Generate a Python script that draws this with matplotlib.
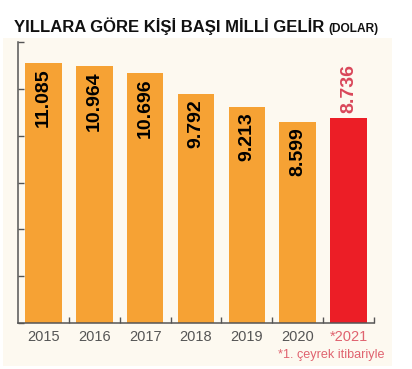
import matplotlib
matplotlib.use('Agg')
import matplotlib.pyplot as plt
from matplotlib.patches import Rectangle

years = ['2015', '2016', '2017', '2018', '2019', '2020', '*2021']
values = [11085, 10964, 10696, 9792, 9213, 8599, 8736]
labels = ['11.085', '10.964', '10.696', '9.792', '9.213', '8.599', '8.736']

plt.rcParams['font.family'] = ['Liberation Sans', 'DejaVu Sans']

orange = '#f6a234'
red = '#ec1e26'
pink = '#e0636f'

fig = plt.figure(figsize=(4.12, 3.69), dpi=100)
fig.patch.set_facecolor('white')
# cream panel behind the chart
fig.patches.append(Rectangle((3 / 412, 3 / 369), 389 / 412, 328 / 369,
                             transform=fig.transFigure, facecolor='#fdf9f0',
                             edgecolor='none', zorder=-5))

ax = fig.add_axes([18 / 412, 1 - 323 / 369, 356 / 412, 281 / 369])
ax.set_facecolor('none')
ax.set_zorder(2)

x = range(len(years))
colors = [orange] * 6 + [red]
ax.bar(x, values, width=0.72, color=colors, zorder=2)

for i, (v, lab) in enumerate(zip(values, labels)):
    if i < 6:
        ax.text(i, v - 230, lab, rotation=90, ha='center', va='top',
                fontsize=14, fontweight='bold', color='black', zorder=3)
    else:
        ax.text(i, v + 250, lab, rotation=90, ha='center', va='bottom',
                fontsize=14, fontweight='bold', color='#d9475a', zorder=3)

ax.set_xlim(-0.5, 6.5)
ax.set_ylim(0, 12000)
ax.set_yticks(range(0, 12001, 2000))
ax.set_yticklabels([])
ax.set_xticks(list(x))
ax.set_xticklabels(years, fontsize=10.5)
for t in ax.get_xticklabels():
    t.set_color('#555555')
ax.get_xticklabels()[-1].set_color(pink)
ax.set_xticks([i + 0.5 for i in range(7)], minor=True)
ax.tick_params(axis='x', which='major', length=0, pad=5)
ax.tick_params(axis='x', which='minor', direction='in', length=4, color='#555555', width=1)
ax.tick_params(axis='y', direction='in', length=4, color='#555555', width=1)

for s in ['top', 'right']:
    ax.spines[s].set_visible(False)
for s in ['left', 'bottom']:
    ax.spines[s].set_color('#555555')
    ax.spines[s].set_linewidth(1.1)


def fit(txt, width_px):
    # shrink font until the text is as wide as in the reference
    fig.canvas.draw()
    w = txt.get_window_extent().width
    txt.set_fontsize(txt.get_fontsize() * width_px / w)


t1 = fig.text(14 / 412, 1 - 32 / 369, 'YILLARA GÖRE KİŞİ BAŞI MİLLİ GELİR',
              fontsize=16, fontweight='bold', color='#111111', va='baseline')
fit(t1, 310)
fig.canvas.draw()
bb = t1.get_window_extent()
t2 = fig.text((bb.x1 + 4) / 412, 1 - 32 / 369, '(DOLAR)', fontsize=12,
              fontweight='bold', color='#111111', va='baseline')
fit(t2, 50)

t3 = fig.text(384 / 412, 1 - 355 / 369, '*1. çeyrek itibariyle', fontsize=11,
              color=pink, ha='right', va='center')
fit(t3, 106)

fig.savefig('out.png', dpi=100)
